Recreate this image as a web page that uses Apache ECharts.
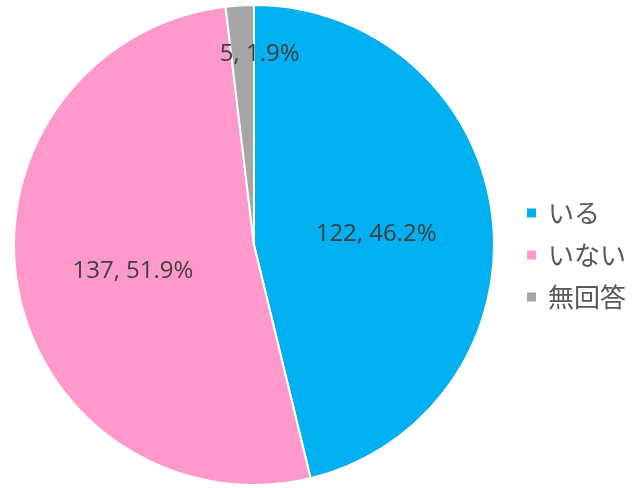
<!DOCTYPE html>
<html>
<head>
<meta charset="utf-8">
<script src="https://cdn.jsdelivr.net/npm/echarts@6/dist/echarts.min.js"></script>
<style>
  html, body { margin: 0; padding: 0; background: #fff; }
  #main { width: 632px; height: 488px; }
</style>
</head>
<body>
<div id="main"></div>
<script>
const categories = ["いる", "いない", "無回答"];
const counts = [122, 137, 5];
const percents = [46.2, 51.9, 1.9];
const colors = ["#00B0F0", "#FF99CC", "#A6A6A6"];

const chart = echarts.init(document.getElementById("main"));
const data = categories.map((name, i) => ({
  name,
  value: counts[i],
  pct: percents[i],
  itemStyle: { color: colors[i] },
  // small slice: Excel puts its label near the rim
  label: i === 2 ? { offset: [13, -68] } : {},
}));

chart.setOption({
  animation: false,
  legend: {
    orient: "vertical",
    left: 520,
    top: 195,
    itemWidth: 11,
    itemHeight: 11,
    itemGap: 16,
    icon: "rect",
    textStyle: {
      fontSize: 26,
      color: "#595959",
      fontFamily: "Noto Sans CJK JP",
      padding: [0, 0, 0, 6],
    },
    data: categories,
  },
  series: [
    {
      type: "pie",
      center: [254, 245],
      radius: 240,
      startAngle: 90,
      clockwise: true,
      itemStyle: { borderColor: "#fff", borderWidth: 2 },
      label: {
        show: true,
        position: "inside",
        offset: [0, 4],
        fontSize: 24,
        color: "#404040",
        fontFamily: "Open Sans",
        formatter: (p) => p.value + ", " + p.data.pct + "%",
      },
      labelLine: { show: false },
      data,
    },
  ],
});
</script>
</body>
</html>
